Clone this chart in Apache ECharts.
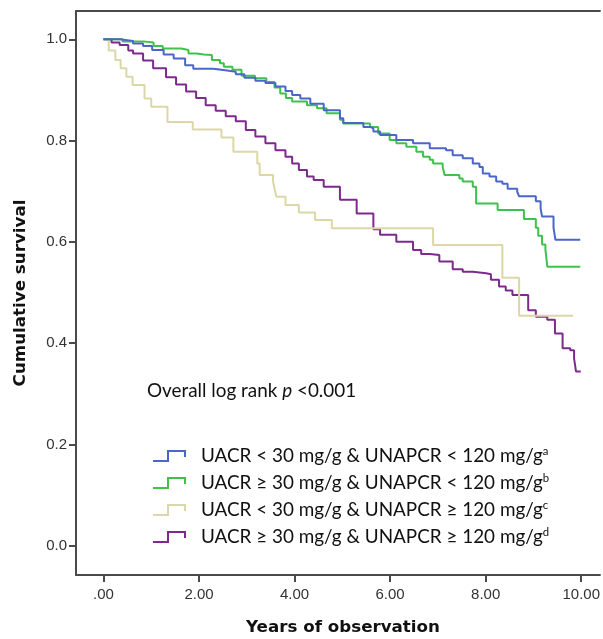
<!DOCTYPE html>
<html><head><meta charset="utf-8">
<script src="https://cdn.jsdelivr.net/npm/echarts@6/dist/echarts.min.js"></script>
<style>html,body{margin:0;padding:0;background:#fff}#c{width:603px;height:639px}</style>
</head><body><div id="c"></div>
<script>
// ---- data ----
const groupNames = [
  'UACR < 30 mg/g & UNAPCR < 120 mg/g',
  'UACR \u2265 30 mg/g & UNAPCR < 120 mg/g',
  'UACR < 30 mg/g & UNAPCR \u2265 120 mg/g',
  'UACR \u2265 30 mg/g & UNAPCR \u2265 120 mg/g'
];
const groupSup = ['a', 'b', 'c', 'd'];
const groupColors = ['#4b66c9', '#3ec24c', '#dcd7a6', '#7c2a8c'];

const timeA = [0, 0.34, 0.62, 0.83, 1.02, 1.26, 1.47, 1.71, 1.88, 2.30, 2.55, 2.77, 2.95, 3.18, 3.39, 3.60, 3.81, 3.95, 4.12, 4.33, 4.61, 4.95, 5.02, 5.44, 5.58, 5.65, 5.79, 6.13, 6.48, 6.83, 7.17, 7.31, 7.52, 7.73, 7.87, 7.94, 8.08, 8.22, 8.35, 8.46, 8.66, 8.70, 9.05, 9.15, 9.18, 9.42, 9.46, 9.98];
const survA = [1.0, 0.997, 0.992, 0.987, 0.979, 0.970, 0.962, 0.949, 0.942, 0.939, 0.936, 0.931, 0.924, 0.918, 0.914, 0.907, 0.898, 0.890, 0.883, 0.873, 0.860, 0.844, 0.835, 0.827, 0.824, 0.818, 0.811, 0.801, 0.795, 0.785, 0.781, 0.771, 0.765, 0.755, 0.748, 0.735, 0.729, 0.719, 0.715, 0.705, 0.699, 0.690, 0.680, 0.666, 0.650, 0.628, 0.604, 0.604];

const timeB = [0, 0.40, 0.83, 1.05, 1.24, 1.63, 1.78, 1.95, 2.10, 2.27, 2.44, 2.52, 2.70, 2.89, 3.17, 3.41, 3.58, 3.70, 3.82, 3.95, 4.26, 4.47, 4.67, 4.95, 5.02, 5.58, 5.75, 5.99, 6.13, 6.34, 6.55, 6.69, 6.83, 6.90, 7.10, 7.14, 7.45, 7.52, 7.73, 7.80, 8.25, 8.80, 9.05, 9.10, 9.18, 9.25, 9.29, 9.98];
const survB = [1.0, 0.996, 0.994, 0.987, 0.982, 0.979, 0.972, 0.970, 0.969, 0.959, 0.953, 0.946, 0.940, 0.928, 0.923, 0.916, 0.905, 0.893, 0.884, 0.877, 0.870, 0.864, 0.854, 0.841, 0.834, 0.827, 0.814, 0.801, 0.795, 0.788, 0.778, 0.768, 0.762, 0.755, 0.748, 0.732, 0.725, 0.719, 0.709, 0.676, 0.663, 0.645, 0.628, 0.612, 0.595, 0.585, 0.551, 0.551];

const timeC = [0, 0.11, 0.25, 0.36, 0.48, 0.61, 0.86, 1.00, 1.34, 1.87, 2.47, 2.72, 3.22, 3.27, 3.55, 3.58, 3.62, 3.81, 4.09, 4.43, 4.78, 6.90, 8.35, 8.70, 9.83];
const survC = [1.0, 0.978, 0.959, 0.943, 0.926, 0.910, 0.883, 0.867, 0.837, 0.822, 0.806, 0.778, 0.755, 0.732, 0.720, 0.705, 0.689, 0.673, 0.658, 0.643, 0.627, 0.594, 0.529, 0.454, 0.454];

const timeD = [0, 0.17, 0.34, 0.52, 0.62, 0.83, 1.04, 1.31, 1.52, 1.73, 1.94, 2.14, 2.35, 2.56, 2.77, 2.98, 3.18, 3.39, 3.60, 3.81, 3.95, 4.09, 4.26, 4.40, 4.61, 4.95, 5.30, 5.65, 5.79, 6.13, 6.48, 6.65, 6.83, 7.03, 7.31, 7.52, 7.73, 8.01, 8.11, 8.28, 8.42, 8.56, 8.89, 9.05, 9.29, 9.45, 9.61, 9.77, 9.85, 9.89, 9.99];
const survD = [1.0, 0.994, 0.989, 0.978, 0.972, 0.958, 0.943, 0.925, 0.911, 0.897, 0.884, 0.870, 0.859, 0.848, 0.838, 0.821, 0.808, 0.795, 0.781, 0.768, 0.755, 0.742, 0.729, 0.722, 0.709, 0.683, 0.656, 0.625, 0.614, 0.600, 0.584, 0.576, 0.574, 0.561, 0.546, 0.541, 0.538, 0.536, 0.525, 0.512, 0.504, 0.495, 0.465, 0.452, 0.446, 0.419, 0.390, 0.386, 0.370, 0.344, 0.344];

const xTicks = [0, 2, 4, 6, 8, 10];
const xTickLabels = ['.00', '2.00', '4.00', '6.00', '8.00', '10.00'];
const yTicks = [0, 0.2, 0.4, 0.6, 0.8, 1.0];
const yTickLabels = ['0.0', '0.2', '0.4', '0.6', '0.8', '1.0'];

const xTitle = 'Years of observation';
const yTitle = 'Cumulative survival';
const noteText = 'Overall log rank ';
const noteP = 'p';
const noteVal = ' <0.001';

// ---- helpers ----
const mctx = document.createElement('canvas').getContext('2d');
function fit(text, font, weight, style, target) {
  mctx.font = `${style} ${weight} 100px ${font}`;
  return 100 * target / mctx.measureText(text).width;
}
const legendFont = 'Lato';
const legendSize = fit(groupNames[0], legendFont, 'normal', 'normal', 342);
const titleFont = '"DejaVu Sans"';
const titleSize = fit(xTitle, titleFont, 'bold', 'normal', 194);

function pairs(t, s) { return t.map((x, i) => [x, s[i]]); }
const seriesData = [pairs(timeA, survA), pairs(timeB, survB), pairs(timeC, survC), pairs(timeD, survD)];

const iconPath = 'path://M0,10L14,10L14,0L33,0L33,7L31,7L31,2L16,2L16,12L0,12Z';
const axisCol = '#4a4a4a';
const labelStyle = { fontFamily: 'Liberation Sans', fontSize: 15, color: '#333' };

const chart = echarts.init(document.getElementById('c'), null, { renderer: 'canvas' });
chart.setOption({
  animation: false,
  backgroundColor: '#fff',
  grid: { left: 76, right: 0, top: 11, bottom: 64, containLabel: false },
  xAxis: [{
    type: 'value', min: -0.574, max: 10.391,
    axisLine: { show: true, onZero: false, lineStyle: { color: axisCol, width: 2 } },
    axisTick: { show: true, length: 7, customValues: xTicks, lineStyle: { color: axisCol, width: 2 } },
    axisLabel: { show: true, customValues: xTicks, margin: 12, ...labelStyle,
      formatter: v => xTickLabels[xTicks.findIndex(t => Math.abs(t - v) < 1e-6)] },
    splitLine: { show: false }
  }, {
    type: 'value', position: 'top', min: -0.574, max: 10.391,
    axisLine: { show: true, onZero: false, lineStyle: { color: axisCol, width: 2 } },
    axisTick: { show: false }, axisLabel: { show: false }, splitLine: { show: false }
  }],
  yAxis: {
    type: 'value', min: -0.058, max: 1.056,
    axisLine: { show: true, onZero: false, lineStyle: { color: axisCol, width: 2 } },
    axisTick: { show: true, length: 7, customValues: yTicks, lineStyle: { color: axisCol, width: 2 } },
    axisLabel: { show: true, customValues: yTicks, margin: 9, ...labelStyle,
      formatter: v => yTickLabels[yTicks.findIndex(t => Math.abs(t - v) < 1e-6)] },
    splitLine: { show: false }
  },
  legend: {
    orient: 'vertical', left: 148, top: 441, itemWidth: 33, itemHeight: 12, itemGap: 7,
    selectedMode: false,
    itemStyle: { borderWidth: 0 },
    data: groupNames.map((n, i) => ({ name: n, icon: iconPath, itemStyle: { color: groupColors[i], borderWidth: 0 } })),
    formatter: name => name + '{sup|' + groupSup[groupNames.indexOf(name)] + '}',
    textStyle: {
      fontFamily: legendFont, fontSize: legendSize, color: '#111', lineHeight: 20,
      padding: [0, 0, 0, 10],
      rich: { sup: { fontFamily: legendFont, fontSize: legendSize * 0.6, verticalAlign: 'top', lineHeight: 20, color: '#111' } }
    }
  },
  series: seriesData.map((d, i) => ({
    name: groupNames[i], type: 'line', step: 'end', data: d, showSymbol: false, symbol: 'none',
    xAxisIndex: 0, yAxisIndex: 0,
    lineStyle: { color: groupColors[i], width: 2 }, itemStyle: { color: groupColors[i] },
    emphasis: { disabled: true }, z: 2 + (3 - i)
  })),
  graphic: [
    { type: 'text', x: 21, y: 293, rotation: Math.PI / 2,
      style: { text: yTitle, fontFamily: 'DejaVu Sans', fontWeight: 'bold', fontSize: titleSize, fill: '#111', align: 'center', verticalAlign: 'middle' } },
    { type: 'text', x: 343, y: 628,
      style: { text: xTitle, fontFamily: 'DejaVu Sans', fontWeight: 'bold', fontSize: titleSize, fill: '#111', align: 'center', verticalAlign: 'middle' } },
    { type: 'text', x: 147, y: 391,
      style: { text: noteText + '{it|' + noteP + '}' + noteVal, fontFamily: legendFont, fontSize: legendSize, fill: '#111', align: 'left', verticalAlign: 'middle',
        rich: { it: { fontStyle: 'italic', fontFamily: legendFont, fontSize: legendSize, fill: '#111' } } } }
  ]
});
</script>
</body></html>
